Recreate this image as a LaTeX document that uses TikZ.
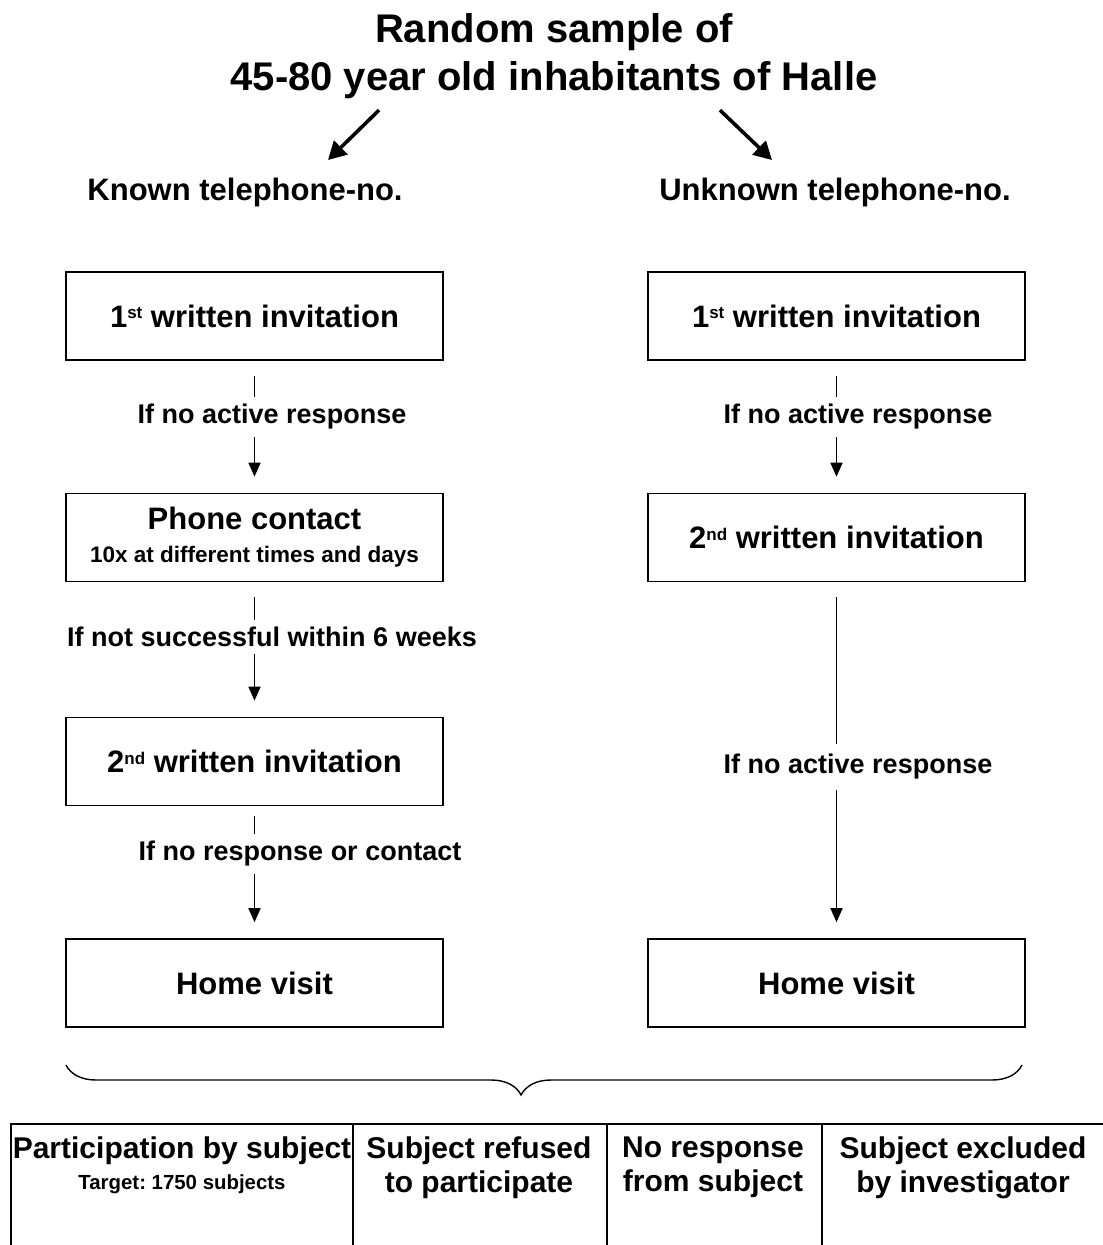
\documentclass[tikz,border=0pt]{standalone}
\usepackage{fontspec}
\setmainfont{Liberation Sans}
\usetikzlibrary{arrows.meta,calc,decorations.pathreplacing}
\newcommand{\ordsup}[1]{\raisebox{8.5pt}{\fontsize{17}{17}\selectfont #1}}
\frenchspacing

\begin{document}
\begin{tikzpicture}[x=1pt, y=-1pt,
  box/.style={draw=black, line width=1.6pt, minimum width=377pt,
              minimum height=88pt, align=center, inner sep=0pt,
              font=\fontsize{31}{34}\bfseries},
  head/.style={font=\fontsize{31}{34}\bfseries},
  lbl/.style={font=\fontsize{27}{30}\bfseries, inner sep=7pt},
  cell/.style={font=\fontsize{30}{33}\bfseries, align=center, anchor=north, inner sep=0pt},
  link/.style={line width=1.6pt, shorten <=15pt},
  arr/.style={line width=1.6pt, -{Triangle[length=14pt, width=12pt]}, shorten >=16pt},
  bigarr/.style={line width=3.6pt, -{Triangle[length=18pt, width=19pt]}},
  grid/.style={line width=1.5pt}]

\useasboundingbox (0,0) rectangle (1103,1245);

% ---------- title ----------
\node[font=\fontsize{40}{48}\bfseries, align=center] (title) at (554,56)
  {Random sample of\\45-80 year old inhabitants of Halle};

\node[head] (known) at (245,192) {Known telephone-no.};
\node[head] (unknown) at (835,192) {Unknown telephone-no.};

\draw[bigarr] ($(title.south)+(-175,8)$) -- ($(known.north)+(83,-14)$);
\draw[bigarr] ($(title.south)+(166,8)$) -- ($(unknown.north)+(-63,-14)$);

% ---------- known telephone-no. ----------
\node[box] (k1) at (254.5,316) {1\ordsup{st} written invitation};
\node[box] (k2) at (254.5,537.5)
  {Phone contact\\[-1pt]{\fontsize{22.5}{25}\selectfont 10x at different times and days}};
\node[box] (k3) at (254.5,761.5) {2\ordsup{nd} written invitation};
\node[box] (k4) at (254.5,983) {Home visit};

\node[lbl] (kl1) at (272,417) {If no active response};
\node[lbl] (kl2) at (272,637) {If not successful within 6 weeks};
\node[lbl] (kl3) at (300,854) {If no response or contact};

\draw[link] (k1) -- (k1 |- kl1.north);
\draw[arr] (k1 |- kl1.south) -- (k2);
\draw[link] (k2) -- (k2 |- kl2.north);
\draw[arr] (k2 |- kl2.south) -- (k3);
\draw[link, shorten <=10pt] (k3) -- (k3 |- kl3.north);
\draw[arr] (k3 |- kl3.south) -- (k4);

% ---------- unknown telephone-no. ----------
\node[box] (u1) at (836.5,316) {1\ordsup{st} written invitation};
\node[box] (u2) at (836.5,537.5) {2\ordsup{nd} written invitation};
\node[box] (u3) at (836.5,983) {Home visit};

\node[lbl] (ul1) at (858,417) {If no active response};
\node[lbl, inner sep=10pt] (ul2) at (858,767) {If no active response};

\draw[link] (u1) -- (u1 |- ul1.north);
\draw[arr] (u1 |- ul1.south) -- (u2);
\draw[link] (u2) -- (u2 |- ul2.north);
\draw[arr] (u2 |- ul2.south) -- (u3);

% ---------- brace and outcomes ----------
\coordinate (bl) at (66,1065);
\coordinate (br) at (1022,1065);
\draw[line width=1.4pt, decorate,
      decoration={brace, mirror, amplitude=30pt, aspect=0.476}] (bl) -- (br);

\draw[grid] (11,1245) -- (11,1124) -- (1103,1124);
\foreach \x in {353,607,822}
  \draw[grid] (\x,1124) -- (\x,1245);

\node[cell] (c1) at (182,1137)
  {Participation by subject\\[-2pt]{\fontsize{20.4}{23}\selectfont Target: 1750 subjects}};
\node[cell] (c2) at (479,1137) {Subject refused\\[1pt]to participate};
\node[cell] (c3) at (713,1137) {No response\\[1pt]from subject};
\node[cell] (c4) at (963,1137) {Subject excluded\\[1pt]by investigator};
\end{tikzpicture}
\end{document}
